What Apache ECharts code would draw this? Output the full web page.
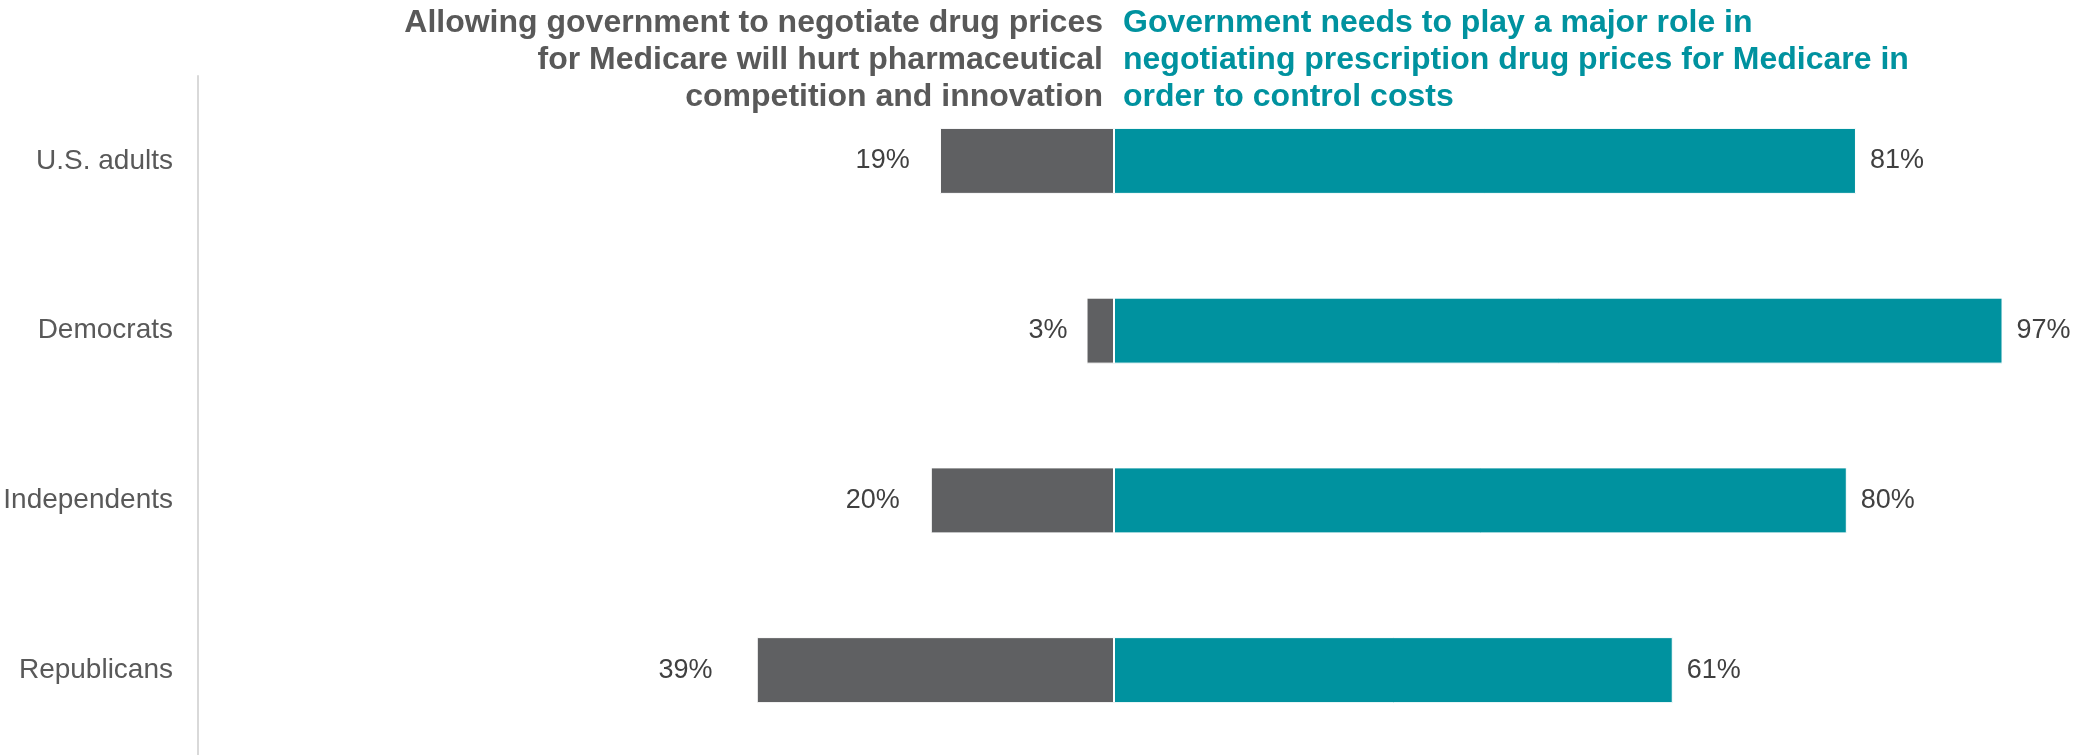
<!DOCTYPE html>
<html>
<head>
<meta charset="utf-8">
<script src="https://cdn.jsdelivr.net/npm/echarts@6/dist/echarts.min.js"></script>
<style>
  html, body { margin: 0; padding: 0; background: #ffffff; }
  #chart { width: 2079px; height: 755px; }
</style>
</head>
<body>
<div id="chart"></div>
<script>
// Survey groups, top to bottom
const groups = ['U.S. adults', 'Democrats', 'Independents', 'Republicans'];
// Share saying negotiation will hurt competition and innovation (%)
const hurtInnovation = [19, 3, 20, 39];
// Share saying government needs a major role in negotiating prices (%)
const majorRole = [81, 97, 80, 61];

const leftTitle = 'Allowing government to negotiate drug prices\nfor Medicare will hurt pharmaceutical\ncompetition and innovation';
const rightTitle = 'Government needs to play a major role in\nnegotiating prescription drug prices for Medicare in\norder to control costs';

const GRAY = '#5f6062';
const TEAL = '#00929f';
const FONT = 'Liberation Sans, Arial, Helvetica, sans-serif';

const chart = echarts.init(document.getElementById('chart'), null, { renderer: 'canvas' });

chart.setOption({
  animation: false,
  backgroundColor: '#ffffff',
  grid: { left: 198, right: 49, top: 76, bottom: 0, containLabel: false },
  xAxis: {
    type: 'value',
    min: -100,
    max: 100,
    show: false
  },
  yAxis: {
    type: 'category',
    data: groups,
    inverse: true,
    axisLine: { show: true, onZero: false, lineStyle: { color: '#d9d9d9', width: 2 } },
    axisTick: { show: false },
    axisLabel: { color: '#595959', fontSize: 28, fontFamily: FONT, margin: 25 },
    splitLine: { show: false }
  },
  series: [
    {
      name: 'hurt',
      type: 'bar',
      stack: 'total',
      barWidth: 66,
      itemStyle: { color: GRAY, borderColor: '#ffffff', borderWidth: 1 },
      data: hurtInnovation.map(v => ({
        value: -v,
        label: { distance: 17 + 0.7 * v }
      })),
      label: {
        show: true,
        position: 'left',
        color: '#404040',
        fontSize: 27,
        fontFamily: FONT,
        formatter: p => Math.abs(p.value) + '%'
      }
    },
    {
      name: 'major',
      type: 'bar',
      stack: 'total',
      barWidth: 66,
      itemStyle: { color: TEAL, borderColor: '#ffffff', borderWidth: 1 },
      data: majorRole,
      label: {
        show: true,
        position: 'right',
        distance: 14,
        color: '#404040',
        fontSize: 27,
        fontFamily: FONT,
        formatter: p => p.value + '%'
      }
    }
  ],
  graphic: [
    {
      type: 'text',
      x: 1103,
      y: 5,
      style: {
        text: leftTitle,
        fill: '#595959',
        font: 'bold 32px ' + FONT,
        align: 'right',
        verticalAlign: 'top',
        lineHeight: 37
      }
    },
    {
      type: 'text',
      x: 1123,
      y: 5,
      style: {
        text: rightTitle,
        fill: TEAL,
        font: 'bold 32px ' + FONT,
        align: 'left',
        verticalAlign: 'top',
        lineHeight: 37
      }
    }
  ]
});
</script>
</body>
</html>
